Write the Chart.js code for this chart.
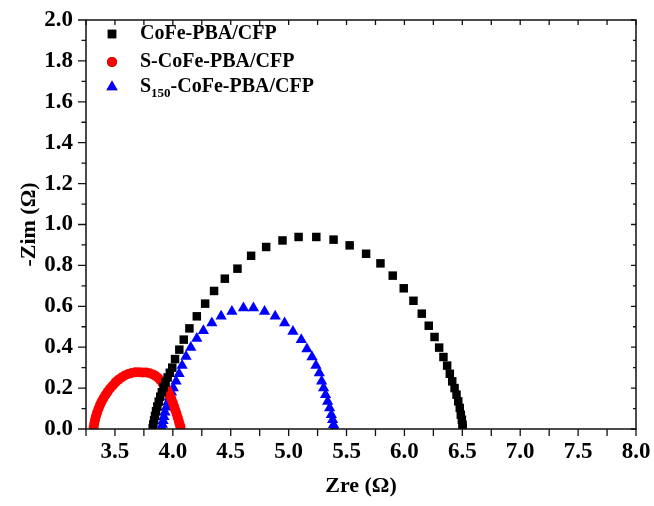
<!DOCTYPE html>
<html>
<head>
<meta charset="utf-8">
<script src="https://cdn.jsdelivr.net/npm/chart.js@4"></script>
<style>
  body { margin: 0; background: #fff; }
  #wrap { width: 654px; height: 506px; position: relative; }
</style>
</head>
<body>
<div id="wrap"><canvas id="chart"></canvas></div>
<script>
// CoFe-PBA/CFP (black squares)
const cofeZre = [3.826, 3.831, 3.838, 3.846, 3.855, 3.866, 3.878, 3.891, 3.905, 3.920, 3.937, 3.955,
    3.974, 3.995, 4.019, 4.056, 4.094, 4.143, 4.207, 4.279, 4.356, 4.449, 4.558, 4.676, 4.806, 4.947,
    5.086, 5.239, 5.388, 5.527, 5.669, 5.793, 5.899, 5.994, 6.078, 6.150, 6.210, 6.260, 6.300, 6.337,
    6.369, 6.392, 6.413, 6.433, 6.450, 6.465, 6.478, 6.487, 6.496, 6.502, 6.504];
const cofeZim = [0.004, 0.022, 0.042, 0.064, 0.087, 0.110, 0.134, 0.158, 0.180, 0.204, 0.228, 0.252,
    0.275, 0.300, 0.342, 0.388, 0.437, 0.492, 0.551, 0.613, 0.675, 0.735, 0.784, 0.847, 0.890, 0.922,
    0.939, 0.939, 0.926, 0.898, 0.857, 0.810, 0.750, 0.688, 0.627, 0.564, 0.505, 0.450, 0.398, 0.352,
    0.310, 0.270, 0.233, 0.200, 0.168, 0.135, 0.103, 0.070, 0.045, 0.021, 0.005];

// S-CoFe-PBA/CFP (red circles)
const sCofeZre = [3.316, 3.321, 3.328, 3.336, 3.346, 3.358, 3.371, 3.385, 3.401, 3.418, 3.437, 3.458,
    3.481, 3.505, 3.530, 3.557, 3.585, 3.615, 3.645, 3.676, 3.708, 3.740, 3.770, 3.800, 3.828, 3.852,
    3.874, 3.894, 3.913, 3.930, 3.946, 3.961, 3.975, 3.988, 4.000, 4.011, 4.022, 4.032, 4.042, 4.051,
    4.059, 4.066];
const sCofeZim = [0.008, 0.026, 0.044, 0.062, 0.080, 0.099, 0.117, 0.134, 0.150, 0.166, 0.182, 0.198,
    0.213, 0.228, 0.241, 0.252, 0.262, 0.269, 0.274, 0.277, 0.278, 0.276, 0.276, 0.273, 0.267, 0.259,
    0.249, 0.237, 0.223, 0.209, 0.195, 0.180, 0.163, 0.146, 0.128, 0.110, 0.092, 0.074, 0.056, 0.039,
    0.023, 0.010];

// S150-CoFe-PBA/CFP (blue triangles)
const s150Zre = [3.905, 3.910, 3.916, 3.923, 3.932, 3.944, 3.958, 3.972, 3.988, 4.004, 4.028, 4.054,
    4.080, 4.114, 4.155, 4.207, 4.264, 4.337, 4.417, 4.510, 4.610, 4.696, 4.792, 4.884, 4.965, 5.037,
    5.109, 5.158, 5.202, 5.236, 5.265, 5.285, 5.302, 5.319, 5.337, 5.354, 5.369, 5.380, 5.388, 5.394];
const s150Zim = [0.005, 0.022, 0.040, 0.060, 0.082, 0.106, 0.132, 0.158, 0.180, 0.200, 0.233, 0.270,
    0.311, 0.355, 0.399, 0.442, 0.481, 0.518, 0.551, 0.575, 0.592, 0.592, 0.575, 0.551, 0.518, 0.477,
    0.437, 0.391, 0.352, 0.311, 0.274, 0.233, 0.200, 0.168, 0.135, 0.103, 0.070, 0.045, 0.021, 0.006];

const seriesNames = ["CoFe-PBA/CFP", "S-CoFe-PBA/CFP", "S150-CoFe-PBA/CFP"];
const xMin = 3.25, xMax = 8.0, xStep = 0.25;
const yMin = 0, yMax = 2.0, yStep = 0.1;

const FONT = "'Liberation Serif', 'Times New Roman', serif";

function pts(xs, ys) {
    return xs.map((x, i) => ({ x: x, y: ys[i] }));
}

const styles = [
    { color: "#000000", shape: "rect", radius: 6 },
    { color: "#ff0000", shape: "circle", radius: 5 },
    { color: "#0000ff", shape: "triangle", radius: 6.5 },
];

const datasets = [pts(cofeZre, cofeZim), pts(sCofeZre, sCofeZim), pts(s150Zre, s150Zim)].map((d, i) => ({
    label: seriesNames[i],
    data: d,
    showLine: false,
    pointStyle: styles[i].shape,
    pointRadius: styles[i].radius,
    pointHoverRadius: styles[i].radius,
    pointBorderWidth: 0,
    pointBackgroundColor: styles[i].color,
    pointBorderColor: styles[i].color,
}));

const frameTicks = {
    id: "frameTicks",
    afterDraw(chart) {
        const ctx = chart.ctx;
        const a = chart.chartArea;
        const xs = chart.scales.x, ys = chart.scales.y;
        ctx.save();
        ctx.strokeStyle = "#111";
        ctx.lineWidth = 1.5;
        ctx.strokeRect(a.left, a.top, a.right - a.left, a.bottom - a.top);
        ctx.lineWidth = 1.3;
        ctx.beginPath();
        xs.ticks.forEach(t => {
            const px = xs.getPixelForValue(t.value);
            ctx.moveTo(px, a.bottom);
            ctx.lineTo(px, a.bottom + 7);
            ctx.moveTo(px, a.top);
            ctx.lineTo(px, a.top + 5);
        });
        ys.ticks.forEach(t => {
            const py = ys.getPixelForValue(t.value);
            const major = Math.round(t.value * 10) % 2 === 0;
            ctx.moveTo(a.left, py);
            ctx.lineTo(a.left - (major ? 8 : 4.5), py);
            ctx.moveTo(a.right, py);
            ctx.lineTo(a.right - (major ? 5 : 3), py);
        });
        ctx.stroke();

        // legend inside plot
        const lx = 112, lyList = [34, 62, 87];
        lyList.forEach((ly, i) => {
            Chart.helpers.drawPoint(ctx, {
                pointStyle: styles[i].shape,
                radius: styles[i].radius,
                borderWidth: 0,
            }, lx, ly);
            ctx.fillStyle = styles[i].color;
            ctx.fill();
        });
        ctx.fillStyle = "#000";
        ctx.textBaseline = "middle";
        ctx.textAlign = "left";
        ctx.font = "bold 20px " + FONT;
        ctx.fillText(seriesNames[0], 140, lyList[0]);
        ctx.fillText(seriesNames[1], 140, lyList[1]);
        let tx = 140;
        ctx.fillText("S", tx, lyList[2]);
        tx += ctx.measureText("S").width;
        ctx.font = "bold 13px " + FONT;
        ctx.fillText("150", tx, lyList[2] + 7);
        tx += ctx.measureText("150").width;
        ctx.font = "bold 20px " + FONT;
        ctx.fillText("-CoFe-PBA/CFP", tx, lyList[2]);
        ctx.restore();
    }
};

const hiddenGrid = {
    display: true,
    drawOnChartArea: false,
    drawTicks: true,
    color: "rgba(0,0,0,0)",
    tickColor: "rgba(0,0,0,0)",
};

new Chart(document.getElementById("chart"), {
    type: "scatter",
    data: { datasets: datasets },
    options: {
        responsive: true,
        maintainAspectRatio: false,
        animation: false,
        events: [],
        layout: { padding: { top: 20, right: 18, left: 0, bottom: 0 } },
        plugins: {
            legend: { display: false },
            tooltip: { enabled: false },
        },
        scales: {
            x: {
                type: "linear",
                min: xMin,
                max: xMax,
                afterFit: s => { s.height = 77; },
                grid: Object.assign({}, hiddenGrid, { tickLength: 7 }),
                border: { display: false },
                ticks: {
                    stepSize: xStep,
                    autoSkip: false,
                    maxRotation: 0,
                    padding: 2,
                    color: "#000",
                    font: { family: FONT, size: 23, weight: "bold" },
                    callback: v => (Math.round(v * 4) % 2 === 0 ? v.toFixed(1) : ""),
                },
                title: {
                    display: true,
                    text: "Zre (Ω)",
                    color: "#000",
                    padding: { top: 0, bottom: 6 },
                    font: { family: FONT, size: 22, weight: "bold" },
                },
            },
            y: {
                type: "linear",
                min: yMin,
                max: yMax,
                afterFit: s => { s.width = 86; },
                grid: Object.assign({}, hiddenGrid, { tickLength: 11 }),
                border: { display: false },
                ticks: {
                    stepSize: yStep,
                    autoSkip: false,
                    padding: 2,
                    color: "#000",
                    font: { family: FONT, size: 23, weight: "bold" },
                    callback: v => (Math.round(v * 10) % 2 === 0 ? v.toFixed(1) : ""),
                },
                title: {
                    display: true,
                    text: "-Zim (Ω)",
                    color: "#000",
                    padding: { top: 16, bottom: 0 },
                    font: { family: FONT, size: 22, weight: "bold" },
                },
            },
        },
    },
    plugins: [frameTicks],
});
</script>
</body>
</html>
